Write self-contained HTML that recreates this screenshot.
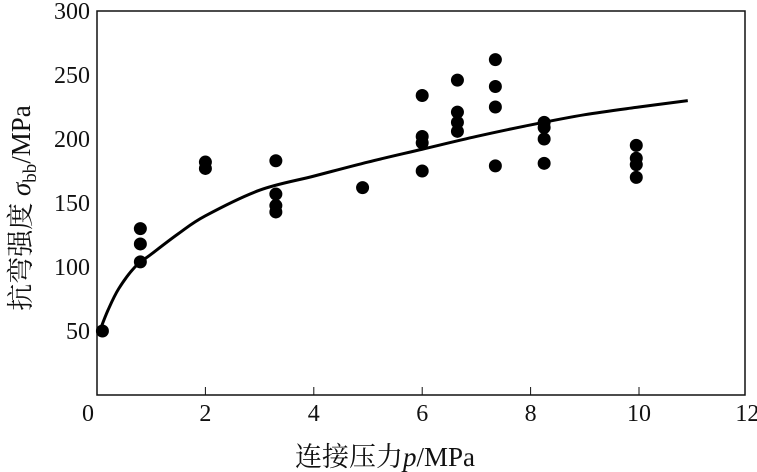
<!DOCTYPE html>
<html><head><meta charset="utf-8"><style>
body{margin:0;background:#fff}
svg{display:block}
text{font-family:"Liberation Serif","Noto Serif CJK SC",serif;fill:#111}
</style></head><body>
<svg id="chart" width="757" height="472" viewBox="0 0 757 472">
<rect x="97" y="11" width="648" height="384" fill="none" stroke="#111" stroke-width="1.5"/>
<g id="ticks"></g>
<path id="fit" fill="none" stroke="#000" stroke-width="3"/>
<g id="pts"></g>
<text x="295" y="466" font-size="27">连接压力<tspan font-style="italic">p</tspan>/MPa</text>
<text transform="translate(30,208) rotate(-90)" text-anchor="middle" font-size="27">抗弯强度 <tspan font-style="italic">σ</tspan><tspan font-size="19" dy="6">bb</tspan><tspan dy="-6">/MPa</tspan></text>
</svg>
<script>
const xTicks=[0,2,4,6,8,10,12];
const yTicks=[0,50,100,150,200,250,300];
const px=[0.1,0.8,0.8,0.8,2.0,2.0,3.3,3.3,3.3,3.3,4.9,6.0,6.0,6.0,6.0,6.65,6.65,6.65,6.65,7.35,7.35,7.35,7.35,8.25,8.25,8.25,8.25,9.95,9.95,9.95,9.95];
const py=[50,130,118,104,182,177,183,157,148,143,162,234,202,197,175,246,221,213,206,262,241,225,179,213,209,200,181,195,185,180,170];
const curveX=[0.05,0.2,0.4,0.7,1,1.5,2,3,4,5,6,7,8,9,10,10.9];
const curveY=[50,66,83,100,110,126,140,160,171,182,192,202,211,219,225,230];
const X=v=>97+v*54.2, Y=v=>395-v*1.28;
const NS="http://www.w3.org/2000/svg";
const tg=document.getElementById('ticks');
xTicks.forEach(t=>{
  if(t>0&&t<12){const l=document.createElementNS(NS,'line');
  l.setAttribute('x1',X(t));l.setAttribute('x2',X(t));l.setAttribute('y1',395);l.setAttribute('y2',387);l.setAttribute('stroke','#111');
  
  
  tg.appendChild(l);}
  const s=document.createElementNS(NS,'text');
  s.setAttribute('x',t===0?88:X(t));s.setAttribute('y',421);s.setAttribute('text-anchor','middle');s.setAttribute('font-size','24');s.textContent=t;
  
  
  tg.appendChild(s);
});
yTicks.forEach(t=>{
  if(t===0)return;
  const s=document.createElementNS(NS,'text');
  s.setAttribute('x',90);s.setAttribute('y',Y(t)+8);s.setAttribute('text-anchor','end');s.setAttribute('font-size','24');s.textContent=t;
  
  
  tg.appendChild(s);
});
const P=curveX.map((x,i)=>[X(x),Y(curveY[i])]);
let d='M'+P[0][0]+','+P[0][1];
for(let i=0;i<P.length-1;i++){
  const p0=P[Math.max(i-1,0)],p1=P[i],p2=P[i+1],p3=P[Math.min(i+2,P.length-1)];
  const c1=[p1[0]+(p2[0]-p0[0])/6,p1[1]+(p2[1]-p0[1])/6];
  const c2=[p2[0]-(p3[0]-p1[0])/6,p2[1]-(p3[1]-p1[1])/6];
  d+=' C'+c1[0]+','+c1[1]+' '+c2[0]+','+c2[1]+' '+p2[0]+','+p2[1];
}
document.getElementById('fit').setAttribute('d',d);
const pg=document.getElementById('pts');
px.forEach((x,i)=>{
  const c=document.createElementNS(NS,'circle');
  c.setAttribute('cx',X(x));c.setAttribute('cy',Y(py[i]));c.setAttribute('r',6.5);c.setAttribute('fill','#000');
  
  
  pg.appendChild(c);
});
</script>
</body></html>
